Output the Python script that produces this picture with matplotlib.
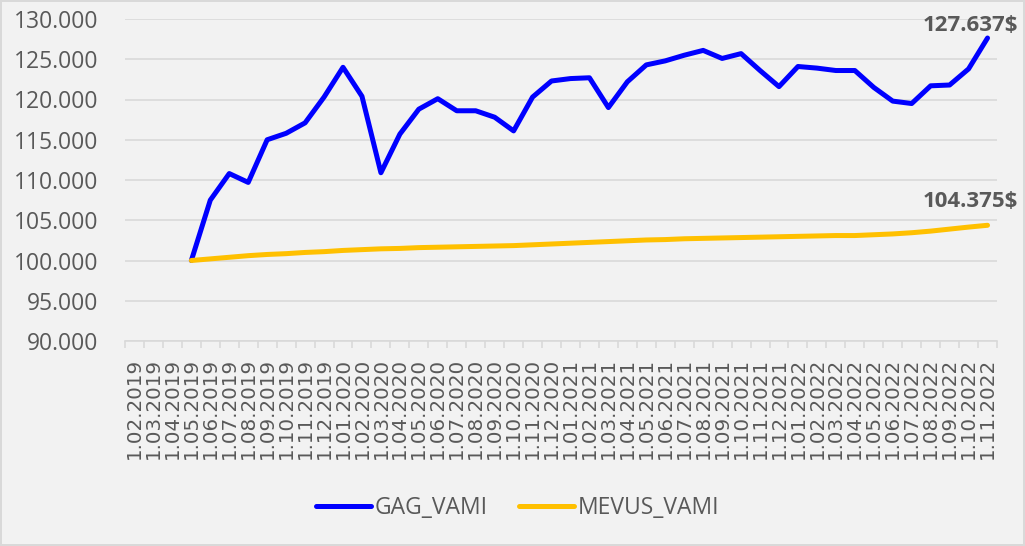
#!/usr/bin/env python3
"""VAMI comparison chart: GAG vs MEVUS, monthly."""

import matplotlib

matplotlib.use("Agg")
import matplotlib.pyplot as plt
from matplotlib.ticker import FuncFormatter, MultipleLocator

# monthly categories, 1.02.2019 .. 1.11.2022
months = []
for year in (2019, 2020, 2021, 2022):
    for month in range(1, 13):
        if (year, month) < (2019, 2) or (year, month) > (2022, 11):
            continue
        months.append(f"1.{month:02d}.{year}")

# series start at 1.05.2019 (category index 3)
start_index = 3
gag_vami = [
    100000, 107500, 110800, 109700, 115000, 115800, 117100, 120300, 124000,
    120400, 110900, 115700, 118800, 120100, 118600, 118600, 117800, 116100,
    120300, 122300, 122600, 122700, 119000, 122200, 124300, 124800, 125500,
    126100, 125100, 125700, 123600, 121600, 124100, 123900, 123600, 123600,
    121500, 119800, 119500, 121700, 121800, 123800, 127637,
]
mevus_vami = [
    100000, 100200, 100400, 100600, 100750, 100850, 101000, 101100, 101250,
    101350, 101450, 101500, 101600, 101650, 101700, 101750, 101800, 101850,
    101950, 102050, 102150, 102250, 102350, 102450, 102550, 102600, 102700,
    102750, 102800, 102850, 102900, 102950, 103000, 103050, 103100, 103100,
    103200, 103300, 103450, 103650, 103900, 104150, 104375,
]

BG = "#f2f2f2"
GRID = "#d9d9d9"
TEXT = "#595959"
BLUE = "#0000ff"
GOLD = "#ffc000"
MAIN_FONT = ["Open Sans", "DejaVu Sans"]


def thousands(value, _pos):
    return f"{value:,.0f}".replace(",", ".")


def main():
    fig = plt.figure(figsize=(10.25, 5.46), dpi=100, facecolor=BG)
    fig.patch.set_edgecolor(GRID)
    fig.patch.set_linewidth(1.5)
    ax = fig.add_axes([125 / 1025, 1 - 341 / 546, (997 - 125) / 1025, (341 - 19) / 546])
    ax.set_facecolor(BG)

    xs = list(range(start_index, start_index + len(gag_vami)))
    ax.plot(xs, gag_vami, color=BLUE, linewidth=3.6, solid_capstyle="round",
            solid_joinstyle="round", label="GAG_VAMI", zorder=3)
    ax.plot(xs, mevus_vami, color=GOLD, linewidth=3.6, solid_capstyle="round",
            solid_joinstyle="round", label="MEVUS_VAMI", zorder=3)

    ax.set_xlim(-0.5, len(months) - 0.5)
    ax.set_ylim(90000, 130000)
    ax.yaxis.set_major_locator(MultipleLocator(5000))
    ax.yaxis.set_major_formatter(FuncFormatter(thousands))
    ax.grid(True, axis="y", color=GRID, linewidth=1.2, zorder=0)
    ax.set_axisbelow(True)

    for side in ("left", "right", "top"):
        ax.spines[side].set_visible(False)
    ax.spines["bottom"].set_color(GRID)
    ax.spines["bottom"].set_linewidth(1.2)

    ax.set_xticks(range(len(months)))
    ax.set_xticklabels(months, rotation=90, fontsize=14.3, color=TEXT, family="DejaVu Sans")
    ax.set_xticks([i - 0.5 for i in range(len(months) + 1)], minor=True)
    ax.tick_params(axis="x", which="major", length=0, pad=12)
    ax.tick_params(axis="x", which="minor", length=5, color=GRID, width=1.2)
    ax.tick_params(axis="y", length=0, pad=19, labelsize=16.5, labelcolor=TEXT)
    for label in ax.get_yticklabels():
        label.set_family(MAIN_FONT)

    ax.annotate(f"{thousands(gag_vami[-1], None)}$", xy=(xs[-1], gag_vami[-1]),
                xytext=(22, 5), textcoords="offset points", ha="right", va="baseline",
                fontsize=16, fontweight="bold", color=TEXT, family=MAIN_FONT,
                annotation_clip=False)
    ax.annotate(f"{thousands(mevus_vami[-1], None)}$", xy=(xs[-1], mevus_vami[-1]),
                xytext=(22, 13), textcoords="offset points", ha="right", va="baseline",
                fontsize=16, fontweight="bold", color=TEXT, family=MAIN_FONT,
                annotation_clip=False)

    fig.legend(loc="center", bbox_to_anchor=(0.505, 0.07), ncol=2, frameon=False,
               prop={"family": MAIN_FONT, "size": 16.5}, labelcolor=TEXT,
               handlelength=2.4, handletextpad=0.15, columnspacing=1.4)

    fig.savefig("out.png", dpi=100, facecolor=BG, edgecolor=GRID)


if __name__ == "__main__":
    main()
